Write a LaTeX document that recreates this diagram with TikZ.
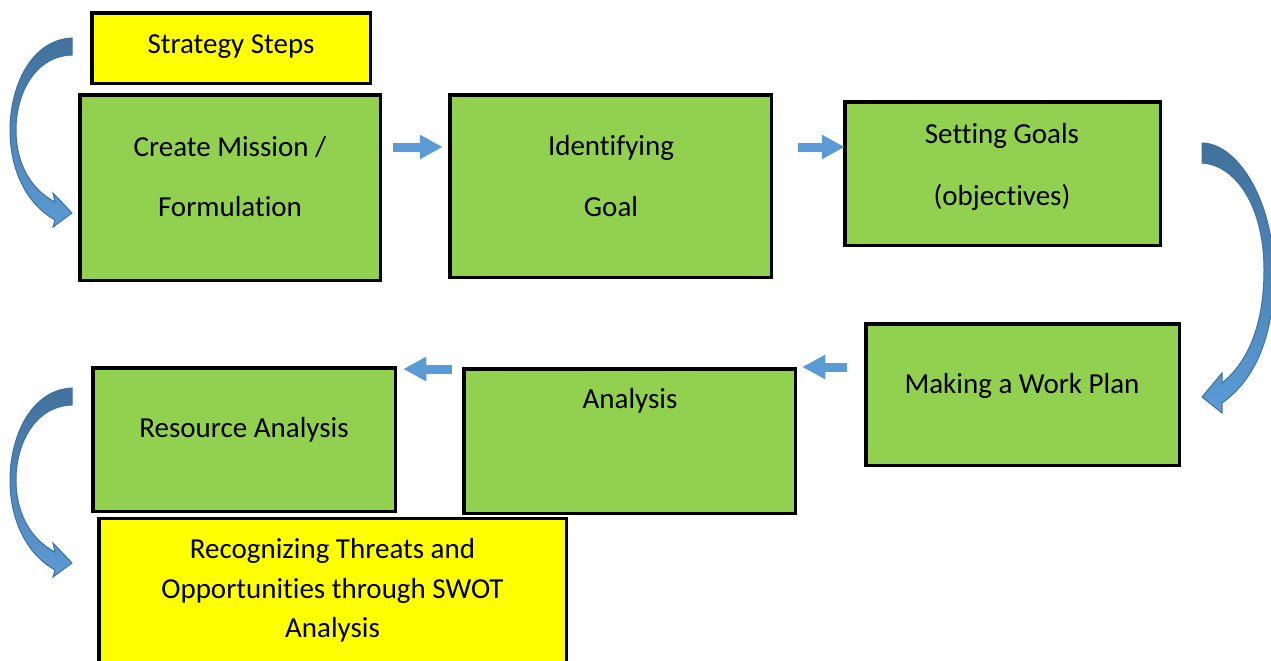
\documentclass[tikz,border=0pt]{standalone}
\usepackage{fontspec}
\setmainfont{Carlito}[Ligatures=NoCommon]
\usetikzlibrary{arrows.meta,calc}
\definecolor{boxgreen}{RGB}{146,208,80}
\definecolor{boxyellow}{RGB}{255,255,0}
\definecolor{arrowblue}{RGB}{91,155,213}
\definecolor{arrowdark}{RGB}{65,113,156}
\tikzset{
  gbox/.style={draw=black, line width=1.75pt, fill=boxgreen, inner sep=0pt, outer sep=0pt},
  ybox/.style={draw=black, line width=1.75pt, fill=boxyellow, inner sep=0pt, outer sep=0pt},
  txt/.style={inner sep=0pt, anchor=base, font=\fontsize{14.5pt}{17pt}\selectfont},
  sarrow/.style={draw=arrowblue, line width=4.5pt, line cap=butt, -{Triangle[length=11.5pt,width=11.5pt]}},
  carrow/.style={top color=arrowdark, bottom color=arrowblue, draw=arrowdark, line width=0.5pt}
}
\begin{document}
\begin{tikzpicture}[x=0.5pt,y=-0.5pt]
\useasboundingbox (0,0) rectangle (1271,660);
\clip (0,0) rectangle (1271,660);
\fill[white] (0,0) rectangle (1271,660);

% boxes
\node[ybox, minimum width=139.25pt, minimum height=35.25pt] (steps) at (231,48) {};
\node[gbox, minimum width=150.25pt, minimum height=92.75pt] (mission) at (230,187.5) {};
\node[gbox, minimum width=160.75pt, minimum height=91.25pt] (identify) at (610.5,186) {};
\node[gbox, minimum width=157.75pt, minimum height=71.75pt] (setting) at (1002.5,173.5) {};
\node[gbox, minimum width=156.75pt, minimum height=70.75pt] (workplan) at (1022.5,394.5) {};
\node[gbox, minimum width=165.75pt, minimum height=72.25pt] (analysis) at (629.5,441) {};
\node[gbox, minimum width=151.25pt, minimum height=71.75pt] (resource) at (244,439.5) {};
\node[ybox, minimum width=233.75pt, minimum height=90pt] (swot) at (332.5,608.5) {};

% texts
\node[txt] (tsteps) at (231,53) {Strategy Steps};
\node[txt] (tm1) at (230,156) {Create Mission /};
\node[txt] (tm2) at (230,216) {Formulation};
\node[txt] (ti1) at (611,155) {Identifying};
\node[txt] (ti2) at (611,216) {Goal};
\node[txt] (ts1) at (1002,143) {Setting Goals};
\node[txt] (ts2) at (1002,205) {(objectives)};
\node[txt] (tw) at (1022,393) {Making a Work Plan};
\node[txt] (ta) at (630,408) {Analysis};
\node[txt] (tr) at (244,437) {Resource Analysis};
\node[txt] (tw1) at (332.5,558) {Recognizing Threats and};
\node[txt] (tw2) at (332.5,598) {Opportunities through SWOT};
\node[txt] (tw3) at (332.5,637) {Analysis};

% straight arrows
\draw[sarrow] ($(mission.east)+(13,-40.5)$) -- ($(identify.west)+(-7,-39)$);
\draw[sarrow] ($(identify.east)+(27,-39)$) -- ($(setting.west)+(0,-26.5)$);
\draw[sarrow] ($(workplan.west)+(-19,-27.5)$) -- ($(analysis.east)+(7,-74)$);
\draw[sarrow] ($(analysis.west)+(-12,-72)$) -- ($(resource.east)+(8,-70.5)$);

% curved arrows (left, top)
\path[carrow] (72,38) .. controls (30,40) and (10,88) .. (10,130)
  .. controls (10,172) and (28,205) .. (55,220) -- (53,227) -- (72,213) -- (53,193) -- (55,202)
  .. controls (32,190) and (16,165) .. (16,130)
  .. controls (16,92) and (36,56) .. (72,55) -- cycle;
% curved arrow (left, bottom)
\path[carrow] (72,388) .. controls (30,390) and (10,438) .. (10,480)
  .. controls (10,522) and (28,555) .. (55,570) -- (53,577) -- (72,563) -- (53,543) -- (55,552)
  .. controls (32,540) and (16,515) .. (16,480)
  .. controls (16,442) and (36,406) .. (72,405) -- cycle;
% curved arrow (right)
\path[carrow] (1202,143) .. controls (1235,143) and (1272,195) .. (1274,270)
  .. controls (1275,335) and (1255,380) .. (1222,403) -- (1222,413) -- (1202,397) -- (1222,373) -- (1222,383)
  .. controls (1248,362) and (1264,325) .. (1264,270)
  .. controls (1264,205) and (1235,165) .. (1202,163) -- cycle;
\end{tikzpicture}
\end{document}
